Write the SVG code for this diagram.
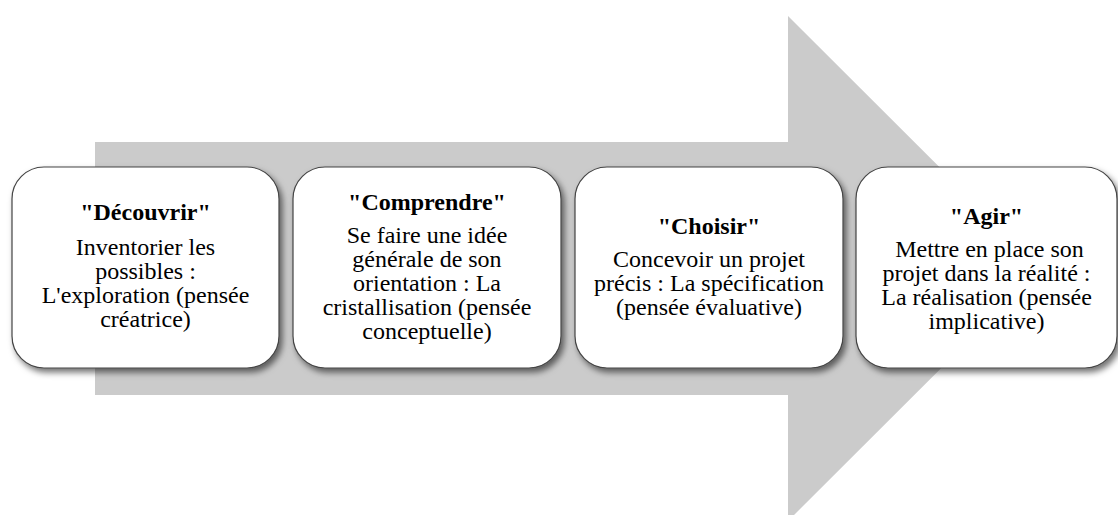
<svg xmlns="http://www.w3.org/2000/svg" width="1118" height="515" viewBox="0 0 1118 515">
<defs>
<filter id="sh" x="-10%" y="-10%" width="125%" height="130%">
<feDropShadow dx="3" dy="4" stdDeviation="3" flood-color="#000" flood-opacity="0.55"/>
</filter>
</defs>
<style>
.box{fill:#fff;stroke:#444;stroke-width:1.2;filter:url(#sh)}
text{font-family:'Liberation Serif','Times New Roman',serif;font-size:24px;fill:#000;text-anchor:middle}
.b{font-weight:bold}
</style>
<rect width="1118" height="515" fill="#fff"/>
<g id="arrow">
<polygon points="95,142 788,142 788,16 1041,268.5 788,521 788,395 95,395" fill="#cbcbcb"/>
</g>
<g id="connectors"/>
<g id="node1">
<rect class="box" x="12" y="167" width="267" height="201" rx="32" ry="32"/>
<text class="b" x="145.5" y="220">"Découvrir"</text>
<text x="145.5" y="255">Inventorier les</text>
<text x="145.5" y="279">possibles :</text>
<text x="145.5" y="303">L'exploration (pensée</text>
<text x="145.5" y="327">créatrice)</text>
</g>
<g id="node2">
<rect class="box" x="293" y="167" width="268" height="201" rx="32" ry="32"/>
<text class="b" x="427" y="210">"Comprendre"</text>
<text x="427" y="243">Se faire une idée</text>
<text x="427" y="267">générale de son</text>
<text x="427" y="291">orientation : La</text>
<text x="427" y="315">cristallisation (pensée</text>
<text x="427" y="339">conceptuelle)</text>
</g>
<g id="node3">
<rect class="box" x="575" y="167" width="268" height="201" rx="32" ry="32"/>
<text class="b" x="709" y="234">"Choisir"</text>
<text x="709" y="267">Concevoir un projet</text>
<text x="709" y="291">précis : La spécification</text>
<text x="709" y="315">(pensée évaluative)</text>
</g>
<g id="node4">
<rect class="box" x="856" y="167" width="261" height="201" rx="32" ry="32"/>
<text class="b" x="986.5" y="224">"Agir"</text>
<text x="986.5" y="257" xml:space="preserve"> Mettre en place son</text>
<text x="986.5" y="281">projet dans la réalité :</text>
<text x="986.5" y="305">La réalisation (pensée</text>
<text x="986.5" y="329">implicative)</text>
</g>
</svg>
